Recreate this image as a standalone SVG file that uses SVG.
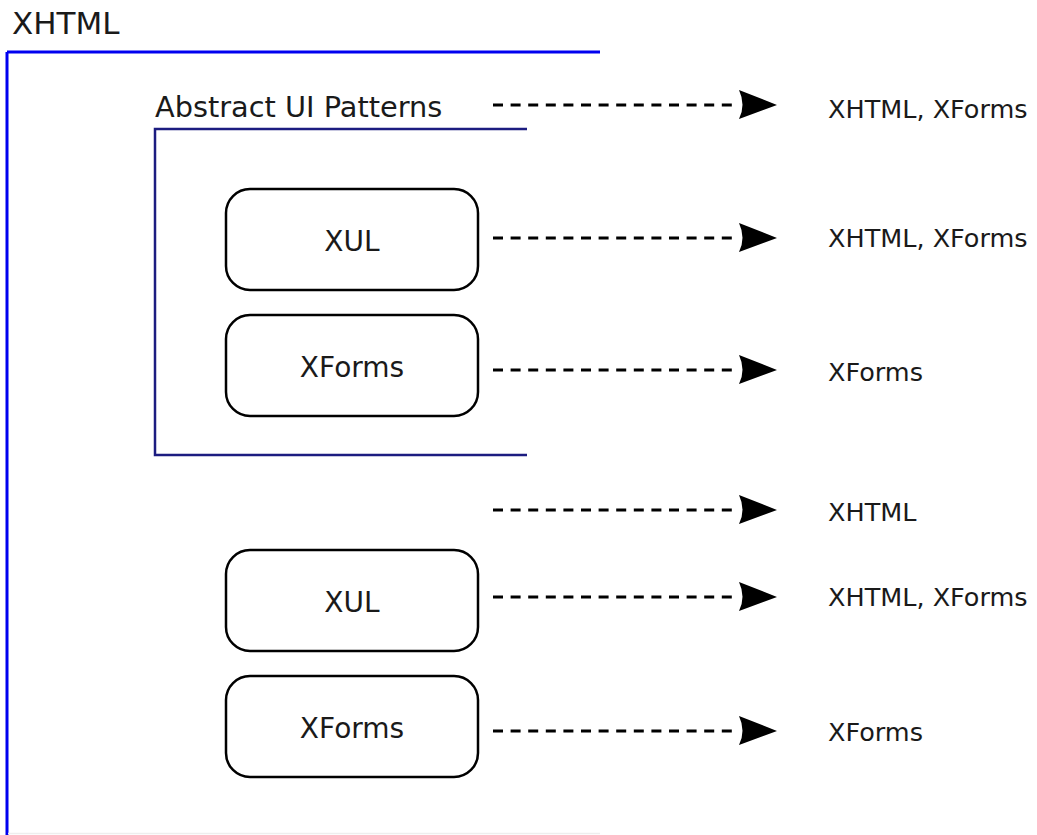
<svg xmlns="http://www.w3.org/2000/svg" width="1037" height="835" viewBox="0 0 1037 835">
<style>
text{font-family:"DejaVu Sans","Liberation Sans",sans-serif;fill:#1a1a1a}
.box{fill:#fff;stroke:#000;stroke-width:2.5}
.lbl{font-size:28px;text-anchor:middle}
.tgt{font-size:25.5px}
.conn{stroke:#000;stroke-width:3;stroke-dasharray:10 7.6;fill:none}
.head{fill:#000}
</style>
<defs>
<path id="ah" d="M0,-15 L38,0 L0,14 Q7,0 0,-15 Z"/>
</defs>
<rect width="1037" height="835" fill="#fff"/>
<g id="xhtml-frame">
<path d="M7,52 H600" stroke="#0000f0" stroke-width="3" fill="none"/>
<path d="M7,52 V835" stroke="#0000f0" stroke-width="3" fill="none"/>
<path d="M8,833.5 H600" stroke="#eeeeee" stroke-width="1.5" fill="none"/>
<text x="12" y="34" style="font-size:31px">XHTML</text>
</g>
<g id="abstract-frame">
<path d="M527,129 H155 V455 H527" stroke="#1c1c80" stroke-width="2.5" fill="none"/>
<text x="155" y="117" style="font-size:28.8px">Abstract UI Patterns</text>
</g>
<g id="xul1"><rect class="box" x="226" y="189" width="252" height="101" rx="24"/><text class="lbl" x="352" y="251">XUL</text></g>
<g id="xforms1"><rect class="box" x="226" y="315" width="252" height="101" rx="24"/><text class="lbl" x="352" y="377">XForms</text></g>
<g id="xul2"><rect class="box" x="226" y="550" width="252" height="101" rx="24"/><text class="lbl" x="352" y="612">XUL</text></g>
<g id="xforms2"><rect class="box" x="226" y="676" width="252" height="101" rx="24"/><text class="lbl" x="352" y="738">XForms</text></g>
<g id="connectors">
<path class="conn" d="M493,105 H739"/><use href="#ah" class="head" x="739" y="105"/>
<path class="conn" d="M493,238 H739"/><use href="#ah" class="head" x="739" y="238"/>
<path class="conn" d="M493,370 H739"/><use href="#ah" class="head" x="739" y="370"/>
<path class="conn" d="M493,510 H739"/><use href="#ah" class="head" x="739" y="510"/>
<path class="conn" d="M493,597 H739"/><use href="#ah" class="head" x="739" y="597"/>
<path class="conn" d="M493,731 H739"/><use href="#ah" class="head" x="739" y="731"/>
</g>
<g id="targets">
<text class="tgt" x="828" y="118">XHTML, XForms</text>
<text class="tgt" x="828" y="247">XHTML, XForms</text>
<text class="tgt" x="828" y="381">XForms</text>
<text class="tgt" x="828" y="521">XHTML</text>
<text class="tgt" x="828" y="606">XHTML, XForms</text>
<text class="tgt" x="828" y="741">XForms</text>
</g>
</svg>
